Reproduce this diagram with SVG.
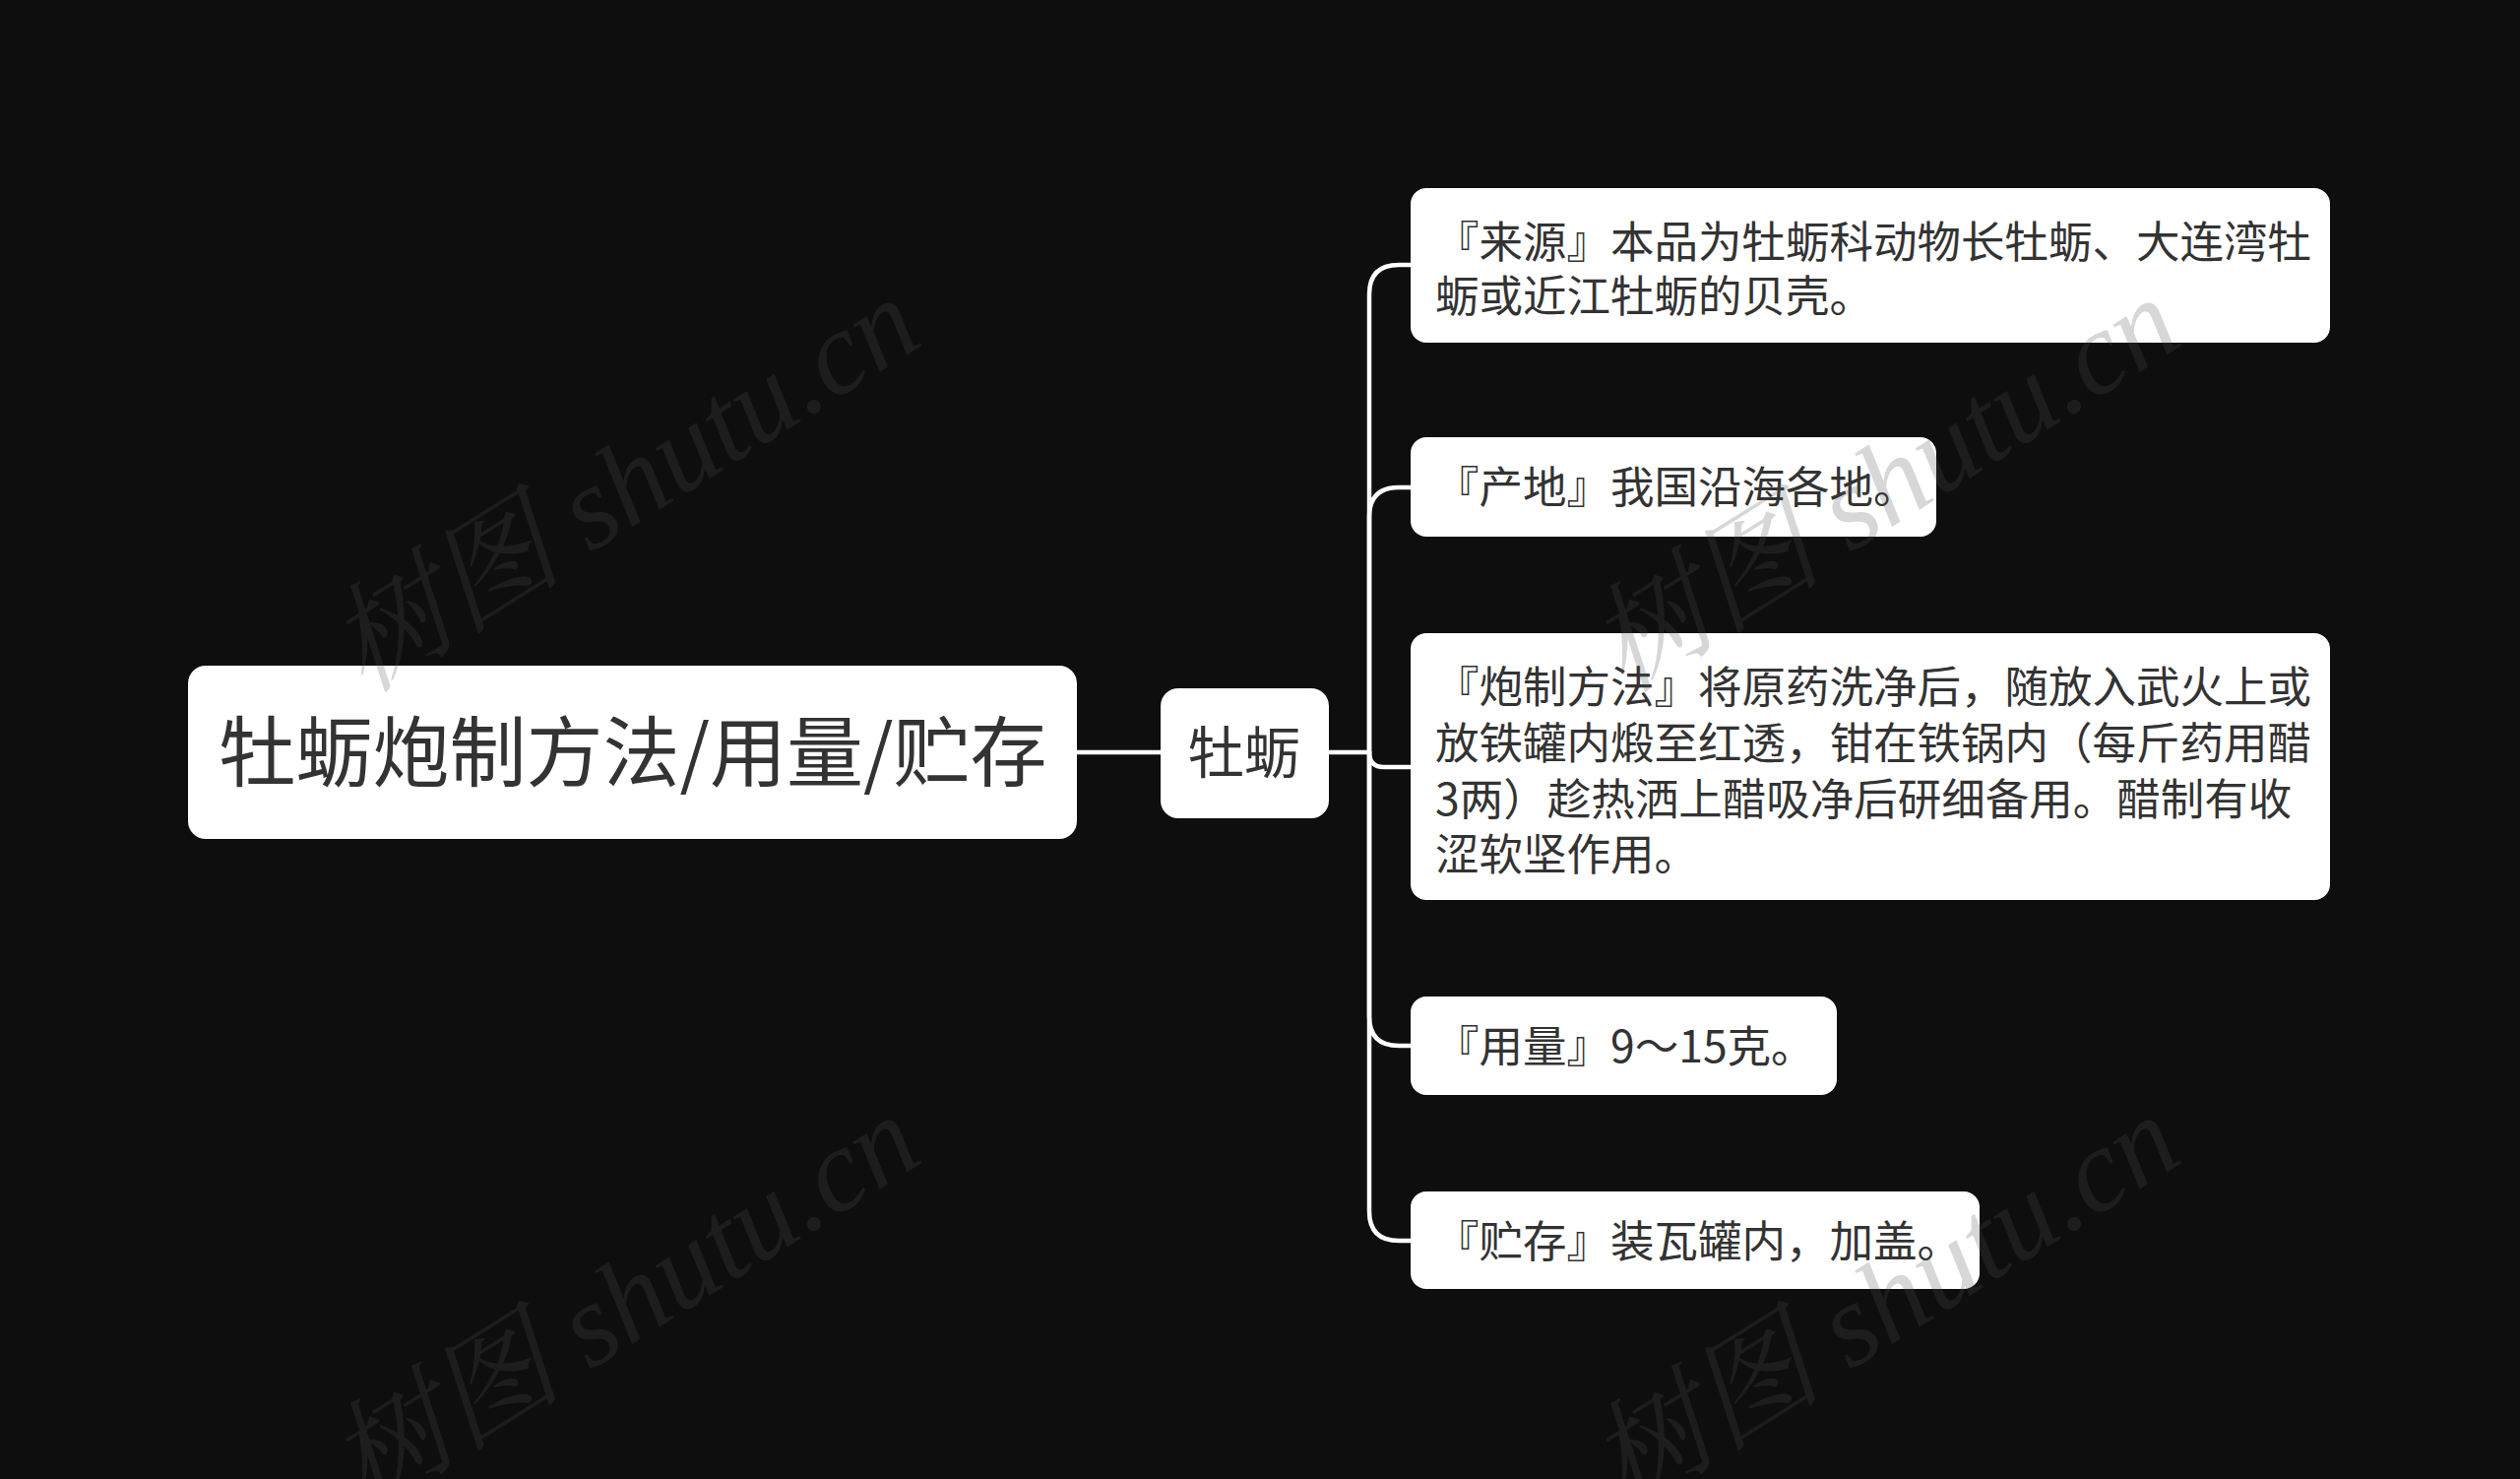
<svg xmlns="http://www.w3.org/2000/svg" width="2560" height="1502" viewBox="0 0 2560 1502">
<style>
.box{fill:#ffffff}
.t{font-family:"Noto Sans CJK SC","Noto Sans",sans-serif;fill:#333333}
.c{font-size:44.5px}
.conn{fill:none;stroke:#ffffff;stroke-width:4.5;stroke-linecap:round}
.wm{font-family:"Liberation Serif","Noto Serif CJK SC","Noto Sans CJK SC",serif;font-style:italic;font-size:120px;fill:#535353;fill-opacity:0.23}
</style>
<rect x="0" y="0" width="2560" height="1502" fill="#0e0e0e"/>
<g id="connectors">
<path class="conn" d="M1094 764 H1179"/>
<path class="conn" d="M1350 764 H1391"/>
<path class="conn" d="M1391 764 V299 Q1391 269 1421 269 H1433"/>
<path class="conn" d="M1391 764 V525 Q1391 495 1421 495 H1433"/>
<path class="conn" d="M1391 764 Q1391 779 1406 779 H1433"/>
<path class="conn" d="M1391 764 V1032 Q1391 1062 1421 1062 H1433"/>
<path class="conn" d="M1391 764 V1230 Q1391 1260 1421 1260 H1433"/>
</g>
<g id="root">
<rect class="box" x="191" y="676" width="903" height="176" rx="18"/>
<text class="t" x="643" y="793" font-size="78" text-anchor="middle">牡蛎炮制方法/用量/贮存</text>
</g>
<g id="n-muli">
<rect class="box" x="1179" y="699" width="171" height="132" rx="18"/>
<text class="t" x="1264" y="785" font-size="57" text-anchor="middle">牡蛎</text>
</g>
<g id="n-laiyuan">
<rect class="box" x="1433" y="191" width="934" height="157" rx="16"/>
<text class="t c" x="1458" y="262">『来源』本品为牡蛎科动物长牡蛎、大连湾牡</text>
<text class="t c" x="1458" y="317">蛎或近江牡蛎的贝壳。</text>
</g>
<g id="n-chandi">
<rect class="box" x="1433" y="444" width="534" height="101" rx="16"/>
<text class="t c" x="1458" y="511">『产地』我国沿海各地。</text>
</g>
<g id="n-paozhi">
<rect class="box" x="1433" y="643" width="934" height="271" rx="16"/>
<text class="t c" x="1458" y="714">『炮制方法』将原药洗净后，随放入武火上或</text>
<text class="t c" x="1458" y="771">放铁罐内煅至红透，钳在铁锅内（每斤药用醋</text>
<text class="t c" x="1458" y="828">3两）趁热洒上醋吸净后研细备用。醋制有收</text>
<text class="t c" x="1458" y="884">涩软坚作用。</text>
</g>
<g id="n-yongliang">
<rect class="box" x="1433" y="1012" width="433" height="100" rx="16"/>
<text class="t c" x="1458" y="1079">『用量』9～15克。</text>
</g>
<g id="n-zhucun">
<rect class="box" x="1433" y="1210" width="578" height="99" rx="16"/>
<text class="t c" x="1458" y="1277">『贮存』装瓦罐内，加盖。</text>
</g>
<g id="watermarks">
<text class="wm" transform="translate(370 705) rotate(-32)">树图 shutu.cn</text>
<text class="wm" transform="translate(1650 705) rotate(-32)">树图 shutu.cn</text>
<text class="wm" transform="translate(370 1535) rotate(-32)">树图 shutu.cn</text>
<text class="wm" transform="translate(1650 1535) rotate(-32)">树图 shutu.cn</text>
</g>
</svg>
